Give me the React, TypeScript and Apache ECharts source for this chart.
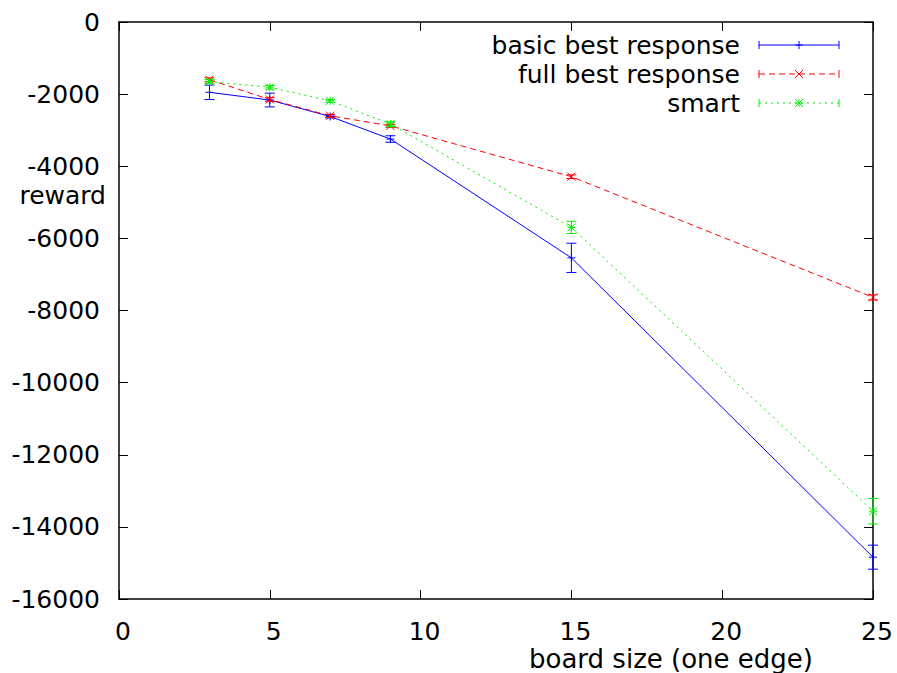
import React, { useEffect, useRef } from "react";
import * as echarts from "echarts";

const boardSizes = [3, 5, 7, 9, 15, 25];
const basicValues = [-1950, -2164, -2620, -3245, -6540, -14840];
const basicErrors = [200, 190, 40, 90, 405, 333];
const fullValues = [-1600, -2150, -2600, -2880, -4290, -7635];
const fullErrors = [50, 50, 40, 40, 50, 70];
const smartValues = [-1650, -1810, -2185, -2830, -5695, -13565];
const smartErrors = [50, 50, 40, 60, 170, 355];
const xTicks = { min: 0, max: 25, interval: 5 };
const yTicks = { min: -16000, max: 0, interval: 2000 };

const FONT = "DejaVu Sans";
const FS = 25;
const LH = 25;

type Marker = "plus" | "cross" | "star";

function markerLines(m: Marker, cx: number, cy: number, r: number) {
  const segs: number[][] = [];
  if (m === "plus" || m === "star") {
    segs.push([cx - r, cy, cx + r, cy], [cx, cy - r, cx, cy + r]);
  }
  if (m === "cross" || m === "star") {
    segs.push([cx - r, cy - r, cx + r, cy + r], [cx - r, cy + r, cx + r, cy - r]);
  }
  return segs;
}

function makeSeries(name: string, values: number[], errors: number[], color: string, dash: any, marker: Marker) {
  const lineData = boardSizes.map((x, i) => [x, values[i]]);
  const errData = boardSizes.map((x, i) => [x, values[i], errors[i]]);
  return [
    {
      name,
      type: "line",
      data: lineData,
      symbol: "none",
      lineStyle: { color, width: 1, type: dash },
      z: 3,
    },
    {
      name: name + "-err",
      type: "custom",
      data: errData,
      encode: { x: 0, y: 1 },
      z: 4,
      renderItem: (params: any, api: any) => {
        const x = api.value(0);
        const y = api.value(1);
        const e = api.value(2);
        const c = api.coord([x, y]);
        const top = api.coord([x, y + e]);
        const bot = api.coord([x, y - e]);
        const cap = 5;
        const segs = [
          [c[0], top[1], c[0], bot[1]],
          [c[0] - cap, top[1], c[0] + cap, top[1]],
          [c[0] - cap, bot[1], c[0] + cap, bot[1]],
          ...markerLines(marker, c[0], c[1], 4),
        ];
        return {
          type: "group",
          children: segs.map((s) => ({
            type: "line",
            shape: { x1: s[0], y1: s[1], x2: s[2], y2: s[3] },
            style: { stroke: color, lineWidth: 1 },
          })),
        };
      },
    },
  ];
}

function legendItem(label: string, y: number, color: string, dash: any, marker: Marker) {
  const x1 = 759;
  const x2 = 839;
  const mx = 799;
  const lines = [
    [x1, y, x2, y],
    [x1, y - 4, x1, y + 4],
    [x2, y - 4, x2, y + 4],
  ];
  const children: any[] = [
    {
      type: "text",
      x: 740,
      y,
      style: { text: label, fill: "#000", fontFamily: FONT, fontSize: FS, lineHeight: LH, align: "right", verticalAlign: "middle" },
    },
  ];
  lines.forEach((s, i) =>
    children.push({
      type: "line",
      shape: { x1: s[0], y1: s[1], x2: s[2], y2: s[3] },
      style: { stroke: color, lineWidth: 1, lineDash: i === 0 ? dash : null },
    })
  );
  markerLines(marker, mx, y, 4).forEach((s) =>
    children.push({
      type: "line",
      shape: { x1: s[0], y1: s[1], x2: s[2], y2: s[3] },
      style: { stroke: color, lineWidth: 1 },
    })
  );
  return { type: "group", children };
}

export default function App() {
  const ref = useRef<HTMLDivElement>(null);
  useEffect(() => {
    if (!ref.current) return;
    const chart = echarts.init(ref.current, null, { renderer: "svg" });
    const axisLine = { show: true, onZero: false, lineStyle: { color: "#000", width: 1.5 } };
    const tick = { show: true, inside: true, length: 9, lineStyle: { color: "#000", width: 1 } };
    const label = { fontFamily: FONT, fontSize: FS, lineHeight: LH, color: "#000" };
    chart.setOption({
      animation: false,
      backgroundColor: "#fff",
      grid: { left: 119, right: 24, top: 22, bottom: 74, containLabel: false },
      xAxis: [
        {
          type: "value",
          ...xTicks,
          position: "bottom",
          axisLine,
          axisTick: tick,
          splitLine: { show: false },
          axisLabel: { ...label, margin: 20, padding: [0, 0, 0, 8], formatter: (v: number) => String(v) },
        },
        {
          type: "value",
          ...xTicks,
          position: "top",
          axisLine,
          axisTick: tick,
          splitLine: { show: false },
          axisLabel: { show: false },
        },
      ],
      yAxis: [
        {
          type: "value",
          ...yTicks,
          position: "left",
          axisLine,
          axisTick: tick,
          splitLine: { show: false },
          axisLabel: { ...label, margin: 19, formatter: (v: number) => String(v) },
        },
        {
          type: "value",
          ...yTicks,
          position: "right",
          axisLine,
          axisTick: tick,
          splitLine: { show: false },
          axisLabel: { show: false },
        },
      ],
      series: [
        ...makeSeries("basic best response", basicValues, basicErrors, "#0000ff", "solid", "plus"),
        ...makeSeries("full best response", fullValues, fullErrors, "#ff0000", [6, 4], "cross"),
        ...makeSeries("smart", smartValues, smartErrors, "#00ee00", [2, 4], "star"),
      ],
      graphic: [
        {
          type: "text",
          x: 106,
          y: 195,
          style: { text: "reward", fill: "#000", fontFamily: FONT, fontSize: FS, lineHeight: LH, align: "right", verticalAlign: "middle" },
        },
        {
          type: "text",
          x: 671,
          y: 659,
          style: { text: "board size (one edge)", fill: "#000", fontFamily: FONT, fontSize: 26, lineHeight: LH, align: "center", verticalAlign: "middle" },
        },
        legendItem("basic best response", 45, "#0000ff", null, "plus"),
        legendItem("full best response", 74, "#ff0000", [6, 4], "cross"),
        legendItem("smart", 103, "#00ee00", [2, 4], "star"),
      ],
    });
    return () => chart.dispose();
  }, []);
  return (
    <div
      ref={ref}
      style={{ position: "fixed", left: 0, top: 0, width: 897, height: 673, background: "#fff" }}
    />
  );
}
